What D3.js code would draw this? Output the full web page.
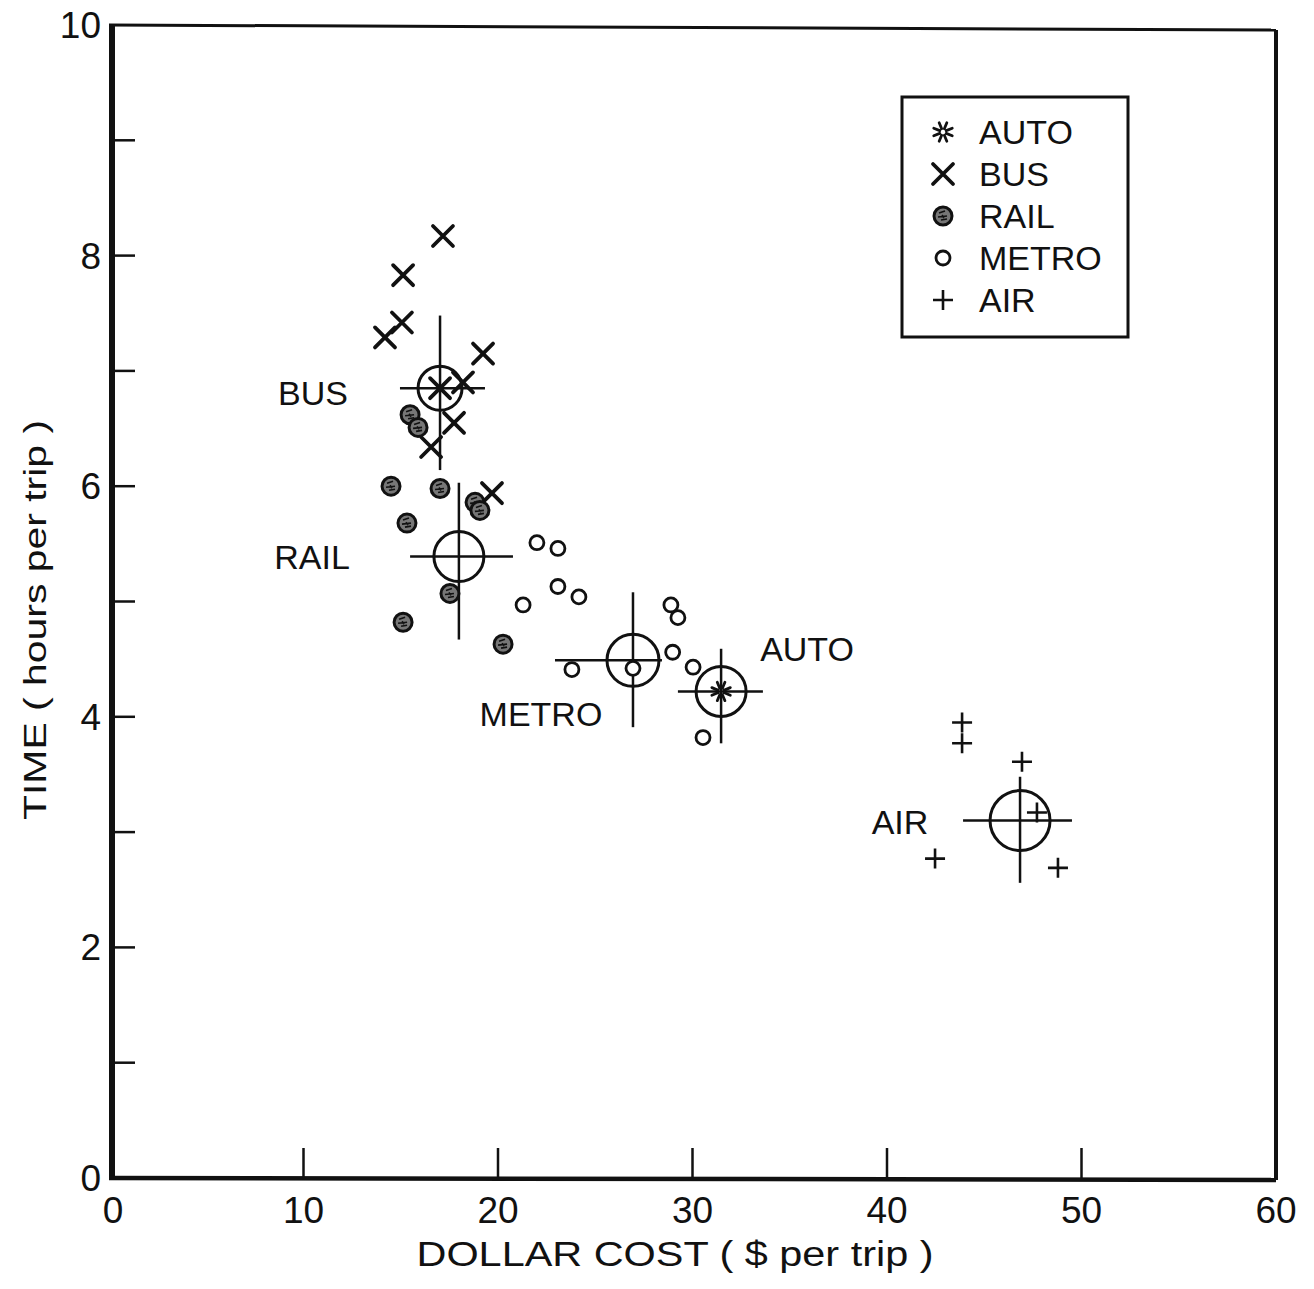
<!DOCTYPE html>
<html>
<head>
<meta charset="utf-8">
<script src="https://cdn.jsdelivr.net/npm/d3@7"></script>
<style>
  html, body { margin: 0; padding: 0; background: #fff; }
  svg { display: block; }
  text { font-family: "Liberation Sans", Arial, sans-serif; fill: #111; }
</style>
</head>
<body>
<svg id="chart" width="1314" height="1289"></svg>
<script>
// ---------------- DATA ----------------
const modes = ["AUTO", "BUS", "RAIL", "METRO", "AIR"];

const busCost = [17.17, 15.12, 15.06, 14.19, 19.23, 17.02, 18.20, 17.74, 16.56, 19.69];
const busTime = [8.17, 7.83, 7.42, 7.29, 7.15, 6.85, 6.90, 6.55, 6.34, 5.94];

const railCost = [15.48, 15.89, 14.50, 17.02, 18.82, 19.07, 15.32, 17.53, 15.12, 20.26];
const railTime = [6.62, 6.51, 6.00, 5.98, 5.86, 5.79, 5.68, 5.07, 4.82, 4.63];

const metroCost = [22.0, 23.08, 23.08, 24.16, 21.29, 28.89, 29.25, 28.98, 30.03, 23.80, 26.94, 30.54];
const metroTime = [5.51, 5.46, 5.13, 5.04, 4.97, 4.97, 4.86, 4.56, 4.43, 4.41, 4.42, 3.82];

const autoCost = [31.47];
const autoTime = [4.22];

const airCost = [43.86, 43.86, 46.94, 47.71, 42.47, 48.79];
const airTime = [3.95, 3.77, 3.61, 3.17, 2.77, 2.69];

// group means and spread (cost low/high, time low/high)
const meanModes = ["BUS", "RAIL", "METRO", "AUTO", "AIR"];
const meanCost  = [17.02, 17.99, 26.94, 31.47, 46.84];
const meanTime  = [6.85, 5.39, 4.49, 4.22, 3.10];
const costLow   = [14.96, 15.48, 22.93, 29.25, 43.91];
const costHigh  = [19.33, 20.77, 28.43, 33.62, 49.51];
const timeLow   = [6.14, 4.67, 3.91, 3.77, 2.56];
const timeHigh  = [7.48, 6.03, 5.08, 4.59, 3.48];

// group label anchors (data units)
const labelText = ["BUS", "RAIL", "METRO", "AUTO", "AIR"];
const labelCost = [10.49, 10.44, 22.21, 35.89, 40.67];
const labelTime = [6.81, 5.39, 4.02, 4.59, 3.09];

const xTicks = [0, 10, 20, 30, 40, 50, 60];
const yTickLabels = [0, 2, 4, 6, 8, 10];
const yTickMarks = [1, 2, 3, 4, 5, 6, 7, 8, 9];

const xTitle = "DOLLAR COST ( $ per trip )";
const yTitle = "TIME ( hours per trip )";

// ---------------- DRAW ----------------
const svg = d3.select("#chart");
const x = d3.scaleLinear().domain([0, 60]).range([109, 1276]);
const y = d3.scaleLinear().domain([0, 10]).range([1178, 25]);

// frame
const g = svg.append("g");
g.append("line").attr("x1", x(0) + 3).attr("x2", x(0) + 3).attr("y1", y(10)).attr("y2", y(0))
  .attr("stroke", "#111").attr("stroke-width", 6);
g.append("line").attr("x1", x(0)).attr("x2", x(60)).attr("y1", y(0)).attr("y2", y(0) + 2)
  .attr("stroke", "#111").attr("stroke-width", 4.5);
g.append("line").attr("x1", x(0)).attr("x2", x(60)).attr("y1", y(10)).attr("y2", y(10) + 5)
  .attr("stroke", "#111").attr("stroke-width", 3);
g.append("line").attr("x1", x(60)).attr("x2", x(60)).attr("y1", y(10) + 5).attr("y2", y(0) + 2)
  .attr("stroke", "#111").attr("stroke-width", 4);

// ticks
g.selectAll(".yt").data(yTickMarks).join("line")
  .attr("x1", x(0) + 4).attr("x2", x(0) + 26)
  .attr("y1", d => y(d)).attr("y2", d => y(d))
  .attr("stroke", "#111").attr("stroke-width", 2.5);
g.selectAll(".xt").data(xTicks.filter(d => d > 0 && d < 60)).join("line")
  .attr("x1", d => x(d)).attr("x2", d => x(d))
  .attr("y1", y(0)).attr("y2", y(0) - 30)
  .attr("stroke", "#111").attr("stroke-width", 2.5);

// tick labels
g.selectAll(".xl").data(xTicks).join("text")
  .attr("x", d => x(d) + (d === 0 ? 4 : 0)).attr("y", y(0) + 45)
  .attr("text-anchor", "middle").attr("font-size", 37)
  .text(d => d);
g.selectAll(".yl").data(yTickLabels).join("text")
  .attr("x", 101).attr("y", d => y(d) + 13)
  .attr("text-anchor", "end").attr("font-size", 37)
  .text(d => d);

// axis titles
g.append("text").attr("x", 675).attr("y", 1266).attr("text-anchor", "middle")
  .attr("font-size", 35).attr("textLength", 517).attr("lengthAdjust", "spacingAndGlyphs")
  .text(xTitle);
g.append("text").attr("transform", "translate(46,620) rotate(-90)").attr("text-anchor", "middle")
  .attr("font-size", 31).attr("textLength", 400).attr("lengthAdjust", "spacingAndGlyphs")
  .text(yTitle);

// ---------- symbols ----------
function drawSymbol(sel, type, cx, cy) {
  const s = sel.append("g").attr("transform", `translate(${cx},${cy})`);
  if (type === "BUS") {
    s.append("path").attr("d", "M-10,-10L10,10M10,-10L-10,10")
      .attr("stroke", "#111").attr("stroke-width", 3.8).attr("stroke-linecap", "round").attr("fill", "none");
  } else if (type === "RAIL") {
    s.append("circle").attr("r", 9).attr("fill", "#777").attr("stroke", "#111").attr("stroke-width", 3);
    s.append("path").attr("d", "M-4,-3L2,-5M-5,1L4,0M-2,4L4,3M-1,-1L1,2")
      .attr("stroke", "#111").attr("stroke-width", 1.6).attr("fill", "none");
  } else if (type === "METRO") {
    s.append("circle").attr("r", 7).attr("fill", "#fff").attr("stroke", "#111").attr("stroke-width", 2.8);
  } else if (type === "AIR") {
    s.append("path").attr("d", "M-10,0L10,0M0,-10L0,10")
      .attr("stroke", "#111").attr("stroke-width", 2.6).attr("fill", "none");
  } else if (type === "AUTO") {
    const spokes = d3.range(8).map(i => i * Math.PI / 4 + Math.PI / 8);
    s.append("path").attr("d", spokes.map(a =>
      `M${(3.5 * Math.cos(a)).toFixed(2)},${(3.5 * Math.sin(a)).toFixed(2)}L${(10 * Math.cos(a)).toFixed(2)},${(10 * Math.sin(a)).toFixed(2)}`).join(""))
      .attr("stroke", "#111").attr("stroke-width", 2.8).attr("stroke-linecap", "round").attr("fill", "none");
  }
}

// group means: crosshairs + circles
const radius = { BUS: 22, RAIL: 25, METRO: 26, AUTO: 25, AIR: 30 };
const means = meanModes.map((m, i) => ({ m, cx: meanCost[i], cy: meanTime[i], xl: costLow[i], xh: costHigh[i], yl: timeLow[i], yh: timeHigh[i] }));
const mg = svg.append("g");
mg.selectAll(".hx").data(means).join("line")
  .attr("x1", d => x(d.xl)).attr("x2", d => x(d.xh))
  .attr("y1", d => y(d.cy)).attr("y2", d => y(d.cy))
  .attr("stroke", "#111").attr("stroke-width", 2.5);
mg.selectAll(".vy").data(means).join("line")
  .attr("x1", d => x(d.cx)).attr("x2", d => x(d.cx))
  .attr("y1", d => y(d.yl)).attr("y2", d => y(d.yh))
  .attr("stroke", "#111").attr("stroke-width", 2.5);
mg.selectAll(".mc").data(means).join("circle")
  .attr("cx", d => x(d.cx)).attr("cy", d => y(d.cy)).attr("r", d => radius[d.m])
  .attr("fill", "none").attr("stroke", "#111").attr("stroke-width", 3);

// points
const pg = svg.append("g");
const series = [
  ["BUS", busCost, busTime], ["RAIL", railCost, railTime], ["METRO", metroCost, metroTime],
  ["AUTO", autoCost, autoTime], ["AIR", airCost, airTime]
];
series.forEach(([type, xs, ys]) => {
  xs.forEach((v, i) => drawSymbol(pg, type, x(v), y(ys[i])));
});

// group labels
svg.selectAll(".gl").data(labelText).join("text")
  .attr("x", (d, i) => x(labelCost[i])).attr("y", (d, i) => y(labelTime[i]) + 12)
  .attr("text-anchor", "middle").attr("font-size", 34)
  .text(d => d);

// legend
const lg = svg.append("g");
lg.append("rect").attr("x", 902).attr("y", 97).attr("width", 226).attr("height", 240)
  .attr("fill", "#fff").attr("stroke", "#111").attr("stroke-width", 3);
modes.forEach((m, i) => {
  const cy = 132 + i * 42;
  drawSymbol(lg, m, 943, cy);
  lg.append("text").attr("x", 979).attr("y", cy + 12).attr("font-size", 34).text(m);
});
</script>
</body>
</html>
